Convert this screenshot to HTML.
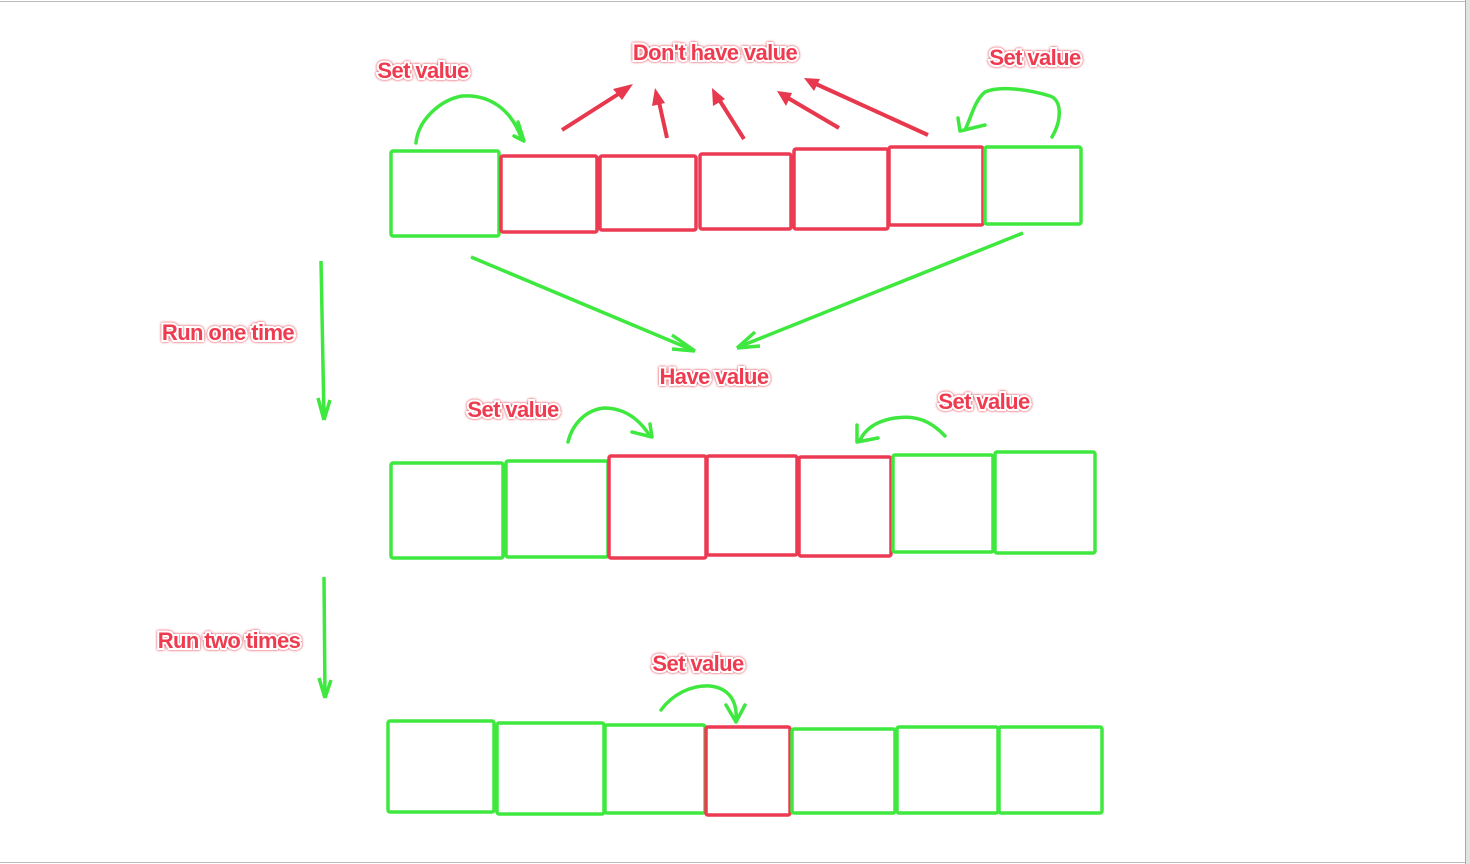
<!DOCTYPE html>
<html><head><meta charset="utf-8"><style>
html,body{margin:0;padding:0;background:#fff;}
svg{display:block}
.t{font-family:"Liberation Sans",sans-serif;font-weight:bold;font-size:22px;fill:#ef3b4f;stroke:#fff;stroke-width:4px;paint-order:stroke;text-anchor:middle;letter-spacing:-0.6px;filter:drop-shadow(0 0 1.2px rgba(220,20,40,.95));}
.g{fill:none;stroke:#3ee83e;stroke-width:3.5;stroke-linejoin:round;stroke-linecap:round}
.r{fill:none;stroke:#ec3a52;stroke-width:3.5;stroke-linejoin:round}
.ra{stroke:#e8384e;stroke-width:4;fill:none}
.ga{stroke:#3ee83e;stroke-width:3.5;fill:none}
</style></head><body>
<svg width="1470" height="864" viewBox="0 0 1470 864">
<rect x="0" y="0" width="1470" height="864" fill="#fff"/>
<line x1="0" y1="1.5" x2="1465" y2="1.5" stroke="#bbb"/>
<line x1="0" y1="862.5" x2="1465" y2="862.5" stroke="#bbb"/>
<rect x="1465" y="0" width="5" height="864" fill="#e2e2e2"/>
<line x1="1465.5" y1="0" x2="1465.5" y2="864" stroke="#aaa"/>

<!-- row 1 -->
<rect class="g" x="391" y="151" width="108" height="85" rx="2"/>
<rect class="r" x="501" y="156" width="96" height="76" rx="2"/>
<rect class="r" x="600" y="156" width="96" height="74" rx="2"/>
<rect class="r" x="700" y="154" width="91" height="75" rx="2"/>
<rect class="r" x="794" y="149" width="94" height="80" rx="2"/>
<rect class="r" x="889" y="147" width="94" height="78" rx="2"/>
<rect class="g" x="985" y="147" width="96" height="77" rx="2"/>
<!-- row 2 -->
<rect class="g" x="391" y="463" width="112" height="95" rx="2"/>
<rect class="g" x="506" y="461" width="102" height="96" rx="2"/>
<rect class="r" x="609" y="456" width="97" height="102" rx="2"/>
<rect class="r" x="707" y="456" width="90" height="99" rx="2"/>
<rect class="r" x="799" y="457" width="92" height="99" rx="2"/>
<rect class="g" x="893" y="455" width="100" height="97" rx="2"/>
<rect class="g" x="995" y="452" width="100" height="101" rx="2"/>
<!-- row 3 -->
<rect class="g" x="388" y="721" width="106" height="91" rx="2"/>
<rect class="g" x="497" y="723" width="107" height="91" rx="2"/>
<rect class="g" x="605" y="725" width="100" height="88" rx="2"/>
<rect class="r" x="706" y="727" width="84" height="88" rx="2"/>
<rect class="g" x="792" y="729" width="103" height="84" rx="2"/>
<rect class="g" x="897" y="727" width="101" height="86" rx="2"/>
<rect class="g" x="999" y="727" width="103" height="86" rx="2"/>

<!-- red arrows -->
<line class="ra" x1="562" y1="130" x2="620" y2="93"/><path d="M633,84 L613,89 L622,100z" fill="#e8384e"/>
<line class="ra" x1="667" y1="138" x2="659" y2="102"/><path d="M655,88 L652,106 L665,103z" fill="#e8384e"/>
<line class="ra" x1="744" y1="139" x2="720" y2="101"/><path d="M712,88 L713,106 L725,99z" fill="#e8384e"/>
<line class="ra" x1="839" y1="128" x2="788" y2="98"/><path d="M777,91 L786,106 L792,93z" fill="#e8384e"/>
<line class="ra" x1="928" y1="135" x2="816" y2="84"/><path d="M804,78 L814,91 L820,79z" fill="#e8384e"/>

<!-- green long arrows -->
<line class="ga" x1="471" y1="257" x2="690" y2="349"/><path d="M695,351 L672,335 M695,351 L672,349" class="ga"/>
<line class="ga" x1="1023" y1="233" x2="741" y2="346"/><path d="M737,348 L755,332 M737,348 L760,346" class="ga"/>
<line class="ga" x1="321" y1="261" x2="324" y2="418"/><path d="M324,420 L318,398 M324,420 L330,400" class="ga"/>
<line class="ga" x1="324" y1="577" x2="325" y2="697"/><path d="M325,698 L319,678 M325,698 L331,680" class="ga"/>

<!-- curly arrows -->
<path class="g" d="M416,143 C418,120 440,100 462,96 C490,94 512,110 522,140 M514,136 L524,141 L518,122"/>
<path class="g" d="M1052,137 C1062,120 1062,100 1050,96 C1030,90 1000,85 985,92 C975,100 972,115 965,130 M958,118 L960,131 L985,125"/>
<path class="g" d="M568,442 C572,425 585,410 604,408 C625,408 640,420 650,436 M632,432 L652,437 L650,424"/>
<path class="g" d="M945,436 C930,420 915,415 895,418 C875,421 865,430 860,440 M857,425 L857,442 L878,438"/>
<path class="g" d="M661,710 C672,695 690,685 710,686 C728,688 738,700 736,722 M726,705 L736,722 L745,705"/>

<!-- labels -->
<text class="t" x="423" y="78">Set value</text>
<text class="t" x="715" y="60">Don't have value</text>
<text class="t" x="1035" y="65">Set value</text>
<text class="t" x="228" y="340">Run one time</text>
<text class="t" x="714" y="384">Have value</text>
<text class="t" x="513" y="417">Set value</text>
<text class="t" x="984" y="409">Set value</text>
<text class="t" x="229" y="648">Run two times</text>
<text class="t" x="698" y="671">Set value</text>
</svg>
</body></html>
